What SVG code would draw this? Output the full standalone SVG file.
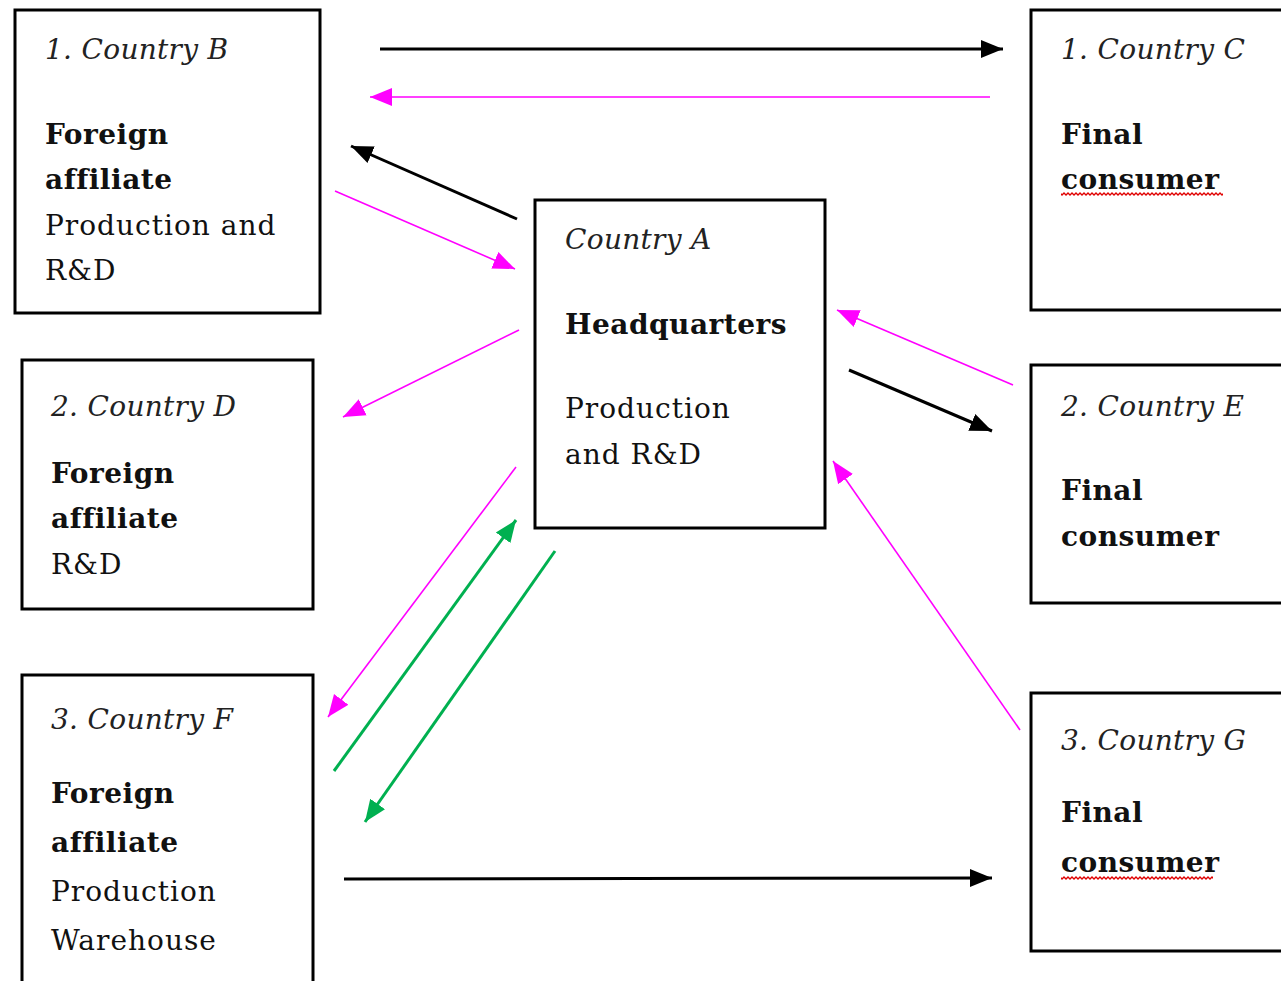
<svg xmlns="http://www.w3.org/2000/svg" width="1281" height="981" viewBox="0 0 1281 981">
<style>
.box{fill:#fff;stroke:#000;stroke-width:3}
.t{font-family:"DejaVu Serif","Liberation Serif",serif;font-size:28px;fill:#111;letter-spacing:1px}
.i{font-style:italic;fill:#222;letter-spacing:0.3px}
.b{font-weight:bold;letter-spacing:0.5px}
.blk{stroke:#000;stroke-width:3;fill:none}
.mag{stroke:#FF00FF;stroke-width:1.6;fill:none}
.grn{stroke:#00B050;stroke-width:3;fill:none}
</style>
<defs>
<marker id="ab" markerUnits="userSpaceOnUse" markerWidth="24" markerHeight="20" refX="22" refY="10" orient="auto"><path d="M0,1 L22,10 L0,19 Z" fill="#000"/></marker>
<marker id="am" markerUnits="userSpaceOnUse" markerWidth="24" markerHeight="20" refX="22" refY="10" orient="auto"><path d="M0,1 L22,10 L0,19 Z" fill="#FF00FF"/></marker>
<marker id="ag" markerUnits="userSpaceOnUse" markerWidth="24" markerHeight="20" refX="22" refY="10" orient="auto"><path d="M0,1 L22,10 L0,19 Z" fill="#00B050"/></marker>
<pattern id="wpat" patternUnits="userSpaceOnUse" width="4" height="4"><path d="M-1,0 L0,1 L2,3 L4,1 L5,0" fill="none" stroke="#E00000" stroke-width="1.3"/></pattern>
</defs>
<rect width="1281" height="981" fill="#fff"/>
<g id="connectors">
<line class="blk" x1="380" y1="49" x2="1003" y2="49" marker-end="url(#ab)"/>
<line class="mag" x1="990" y1="97" x2="370" y2="97" marker-end="url(#am)"/>
<line class="blk" x1="517" y1="219" x2="351" y2="146" marker-end="url(#ab)"/>
<line class="mag" x1="335" y1="191" x2="515" y2="269" marker-end="url(#am)"/>
<line class="mag" x1="519" y1="330" x2="343" y2="417" marker-end="url(#am)"/>
<line class="mag" x1="1013" y1="385" x2="837" y2="310" marker-end="url(#am)"/>
<line class="blk" x1="849" y1="370" x2="992" y2="431" marker-end="url(#ab)"/>
<line class="mag" x1="1020" y1="730" x2="833" y2="461" marker-end="url(#am)"/>
<line class="mag" x1="516" y1="467" x2="328" y2="717" marker-end="url(#am)"/>
<line class="grn" x1="334" y1="771" x2="516" y2="520" marker-end="url(#ag)"/>
<line class="grn" x1="555" y1="551" x2="365" y2="822" marker-end="url(#ag)"/>
<line class="blk" x1="344" y1="879" x2="992" y2="878" marker-end="url(#ab)"/>
</g>
<g id="nodeB">
<rect class="box" x="15" y="10" width="305" height="303"/>
<text class="t i" x="45" y="59">1. Country B</text>
<text class="t b" x="45" y="144">Foreign</text>
<text class="t b" x="45" y="189">affiliate</text>
<text class="t" x="45" y="235">Production and</text>
<text class="t" x="45" y="280">R&amp;D</text>
</g>
<g id="nodeC">
<rect class="box" x="1031" y="10" width="260" height="300"/>
<text class="t i" x="1061" y="59">1. Country C</text>
<text class="t b" x="1061" y="144">Final</text>
<text class="t b" x="1061" y="189">consumer</text>
<rect x="1061" y="192" width="162" height="4" fill="url(#wpat)"/>
</g>
<g id="nodeA">
<rect class="box" x="535" y="200" width="290" height="328"/>
<text class="t i" x="565" y="249">Country A</text>
<text class="t b" x="565" y="334">Headquarters</text>
<text class="t" x="565" y="418">Production</text>
<text class="t" x="565" y="464">and R&amp;D</text>
</g>
<g id="nodeD">
<rect class="box" x="22" y="360" width="291" height="249"/>
<text class="t i" x="51" y="416">2. Country D</text>
<text class="t b" x="51" y="483">Foreign</text>
<text class="t b" x="51" y="528">affiliate</text>
<text class="t" x="51" y="574">R&amp;D</text>
</g>
<g id="nodeE">
<rect class="box" x="1031" y="365" width="260" height="238"/>
<text class="t i" x="1061" y="416">2. Country E</text>
<text class="t b" x="1061" y="500">Final</text>
<text class="t b" x="1061" y="546">consumer</text>
</g>
<g id="nodeF">
<rect class="box" x="22" y="675" width="291" height="320"/>
<text class="t i" x="51" y="729">3. Country F</text>
<text class="t b" x="51" y="803">Foreign</text>
<text class="t b" x="51" y="852">affiliate</text>
<text class="t" x="51" y="901">Production</text>
<text class="t" x="51" y="950">Warehouse</text>
</g>
<g id="nodeG">
<rect class="box" x="1031" y="693" width="260" height="258"/>
<text class="t i" x="1061" y="750">3. Country G</text>
<text class="t b" x="1061" y="822">Final</text>
<text class="t b" x="1061" y="872">consumer</text>
<rect x="1061" y="876" width="152" height="4" fill="url(#wpat)"/>
</g>
</svg>
